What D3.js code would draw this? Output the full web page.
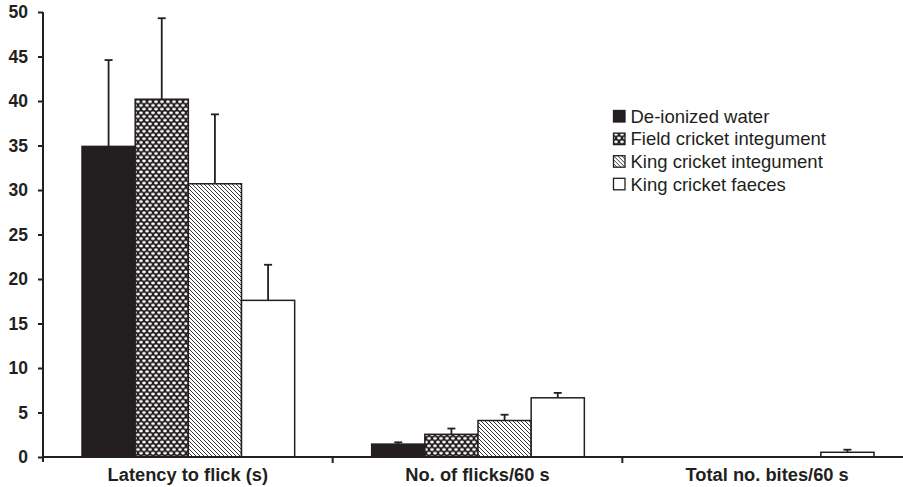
<!DOCTYPE html>
<html><head><meta charset="utf-8">
<script src="https://cdn.jsdelivr.net/npm/d3@7/dist/d3.min.js"></script>
<style>body{margin:0;background:#fff}svg{display:block}</style>
</head><body><svg id="c" width="903" height="487"></svg>
<script>
const categories = ["Latency to flick (s)", "No. of flicks/60 s", "Total no. bites/60 s"];
const seriesNames = ["De-ionized water", "Field cricket integument", "King cricket integument", "King cricket faeces"];
const deionized = [34.9, 1.45, 0];
const fieldCricket = [40.2, 2.55, 0];
const kingIntegument = [30.7, 4.1, 0];
const kingFaeces = [17.6, 6.65, 0.53];
const deionizedErr = [44.6, 1.65, 0];
const fieldCricketErr = [49.3, 3.2, 0];
const kingIntegumentErr = [38.5, 4.75, 0];
const kingFaecesErr = [21.6, 7.2, 0.82];
const yTicks = [0, 5, 10, 15, 20, 25, 30, 35, 40, 45, 50];

const values = [deionized, fieldCricket, kingIntegument, kingFaeces];
const errs = [deionizedErr, fieldCricketErr, kingIntegumentErr, kingFaecesErr];
const ink = "#231f20";
const font = "Liberation Sans, Arial, sans-serif";
const svg = d3.select("#c");
const defs = svg.append("defs");

// net pattern
const pn = defs.append("pattern").attr("id", "net").attr("patternUnits", "userSpaceOnUse")
  .attr("width", 6).attr("height", 7.4);
pn.append("rect").attr("width", 6).attr("height", 7.4).attr("fill", ink);
[[3, 1.85], [0, 5.55], [6, 5.55]].forEach(([x, y]) =>
  pn.append("ellipse").attr("cx", x).attr("cy", y).attr("rx", 1.9).attr("ry", 1.3).attr("fill", "#fff"));
// diagonal pattern
const pd = defs.append("pattern").attr("id", "diag").attr("patternUnits", "userSpaceOnUse")
  .attr("width", 4).attr("height", 4);
pd.append("rect").attr("width", 4).attr("height", 4).attr("fill", "#fff");
pd.append("path").attr("d", "M0,0L4,4M-1,3L1,5M3,-1L5,1").attr("stroke", ink).attr("stroke-width", 0.9);

const fills = [ink, "url(#net)", "url(#diag)", "#fff"];

const x0 = d3.scaleBand().domain(categories).range([43, 912]).padding(0);
const x1 = d3.scaleBand().domain(seriesNames).range([39, x0.bandwidth() - 38]).padding(0);
const y = d3.scaleLinear().domain([0, 50]).range([457, 12]);

// bars
categories.forEach((cat, ci) => {
  seriesNames.forEach((s, si) => {
    const v = values[si][ci];
    if (v <= 0) return;
    const bx = x0(cat) + x1(s);
    const bw = x1.bandwidth();
    const cx = bx + bw / 2;
    const e = errs[si][ci];
    svg.append("line").attr("x1", cx).attr("x2", cx).attr("y1", y(v)).attr("y2", y(e))
      .attr("stroke", ink).attr("stroke-width", 1.8);
    svg.append("line").attr("x1", cx - 4).attr("x2", cx + 4).attr("y1", y(e)).attr("y2", y(e))
      .attr("stroke", ink).attr("stroke-width", 1.8);
    svg.append("rect").attr("x", bx).attr("y", y(v)).attr("width", bw).attr("height", y(0) - y(v))
      .attr("fill", fills[si]).attr("stroke", ink).attr("stroke-width", 1.5);
  });
});

// y axis
const yAxis = svg.append("g").attr("transform", "translate(43,0)")
  .call(d3.axisLeft(y).tickValues(yTicks).tickSize(5).tickPadding(10).tickSizeOuter(0));
yAxis.select(".domain").attr("stroke", ink).attr("stroke-width", 2).attr("d", "M0,12V462");
yAxis.selectAll(".tick line").attr("stroke", ink).attr("stroke-width", 2);
yAxis.selectAll(".tick text").attr("fill", ink).style("font-family", font)
  .style("font-weight", "bold").style("font-size", "17.5px");

// x axis
const xg = svg.append("g").attr("transform", "translate(0,457)");
xg.append("line").attr("x1", 43).attr("x2", 903).attr("y1", 0).attr("y2", 0).attr("stroke", ink).attr("stroke-width", 2);
categories.slice(1).forEach(c => {
  xg.append("line").attr("x1", x0(c)).attr("x2", x0(c)).attr("y1", 0).attr("y2", 6).attr("stroke", ink).attr("stroke-width", 2);
});
categories.forEach(c => {
  xg.append("text").attr("x", x0(c) + x0.bandwidth() / 2).attr("y", 24).attr("text-anchor", "middle")
    .attr("fill", ink).style("font-family", font)
    .style("font-weight", "bold").style("font-size", "18.3px").text(c);
});

// legend
const lg = svg.append("g").attr("transform", "translate(613,110)");
seriesNames.forEach((s, i) => {
  const g = lg.append("g").attr("transform", `translate(0,${i * 22.6})`);
  g.append("rect").attr("x", 0.5).attr("y", 0.5).attr("width", 11.5).attr("height", 11.5)
    .attr("fill", fills[i]).attr("stroke", ink).attr("stroke-width", 1.3);
  g.append("text").attr("x", 17.5).attr("y", 12.8).attr("fill", ink)
    .style("font-family", font).style("font-size", "18.5px").text(s);
});
</script></body></html>
